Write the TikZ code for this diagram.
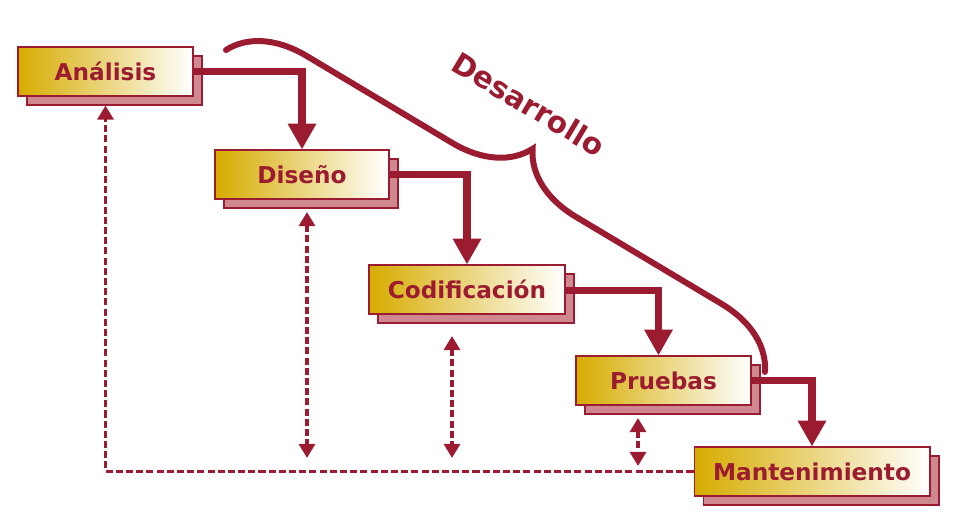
\documentclass[tikz,border=0pt]{standalone}
\usepackage{fontspec}
\setmainfont{DejaVu Sans}
\usetikzlibrary{arrows.meta}
\usetikzlibrary{shadows}
\usetikzlibrary{decorations.pathreplacing}
\definecolor{wred}{HTML}{9B1B30}
\definecolor{wgold}{HTML}{D6AC00}
\definecolor{wpink}{HTML}{D08890}
\tikzset{x=0.02cm, y=-0.02cm,
phase/.style={ % Sets the properties for each phase box
rectangle,
draw=wred,
line width=0.6pt,
left color=wgold,
right color=white,
minimum height=0.98cm,
text=wred,
font=\fontsize{13.2}{16}\selectfont\bfseries,
drop shadow={shadow xshift=0.18cm, shadow yshift=-0.18cm,
  fill=wpink, draw=wred, line width=0.6pt, opacity=1}},
flow/.style={ % Thick step arrows
draw=wred,
line width=4.5pt,
-{Triangle[width=15.3pt,length=14.7pt]}},
back/.style={ % Dashed feedback arrows
draw=wred,
line width=2pt,
dash pattern=on 4pt off 1.8pt,
-{Triangle[width=9pt,length=8pt]}},
both/.style={back, {Triangle[width=9pt,length=8pt]}-{Triangle[width=9pt,length=8pt]}}}

\begin{document}
\begin{tikzpicture}
	\useasboundingbox (0,0) rectangle (956,531);
	\node[phase, minimum width=3.5cm] (ana) at (105.5,71.5) {Análisis};
	\node[phase, minimum width=3.48cm] (dis) at (302,174.5) {Diseño};
	\node[phase, minimum width=3.92cm] (cod) at (467,289.5) {Codificación};
	\node[phase, minimum width=3.5cm] (pru) at (663.5,380.5) {Pruebas};
	\node[phase, minimum width=4.72cm] (man) at (812,471.5) {Mantenimiento};
	\coordinate (b1) at (226,50);
	\coordinate (b2) at (765,372);
	\coordinate (d1) at (307,212);
	\coordinate (d2) at (307,458);
	\coordinate (c1) at (452,336);
	\coordinate (c2) at (452,458);
	\coordinate (p1) at (638,418);
	\coordinate (p2) at (638,466);
	\draw[flow] (ana.east) -| (dis.north);
	\draw[flow] (dis.east) -| (cod.north);
	\draw[flow] ([yshift=-0.02cm]cod.east) -| ([xshift=-0.1cm]pru.north);
	\draw[flow] (pru.east) -| (man.north);
	\draw[back] (man.west) -| ([yshift=-0.18cm]ana.south);
	\draw[both] (d1) -- (d2);
	\draw[both] (c1) -- (c2);
	\draw[both] (p1) -- (p2);
	\draw[wred, line width=3.4pt, line cap=round,
		decorate, decoration={brace, amplitude=1.45cm}] (b1) -- (b2);
	\node[text=wred, rotate=-31, font=\fontsize{16.8}{20}\selectfont\bfseries] (des) at (529,104) {Desarrollo};
\end{tikzpicture}
\end{document}
